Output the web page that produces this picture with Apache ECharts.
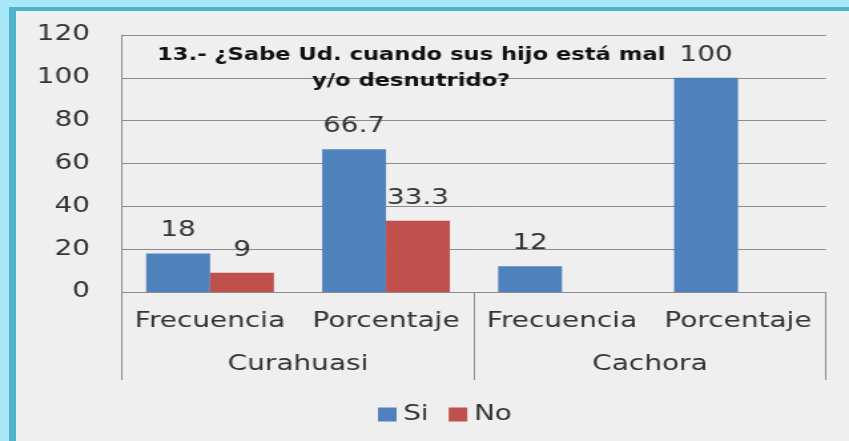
<!DOCTYPE html>
<html>
<head>
<meta charset="utf-8">
<script src="https://cdn.jsdelivr.net/npm/echarts@6/dist/echarts.min.js"></script>
<style>
  html,body{margin:0;padding:0;background:#EFEFEF;overflow:hidden;}
  #wrap{position:absolute;left:0;top:0;width:849px;height:441px;overflow:hidden;}
  /* the original picture is stretched sideways, so draw narrow and widen */
  #chart{position:absolute;left:0;top:0;width:638px;height:441px;transform:scaleX(1.3307);transform-origin:0 0;}
  .fr{position:absolute;}
</style>
</head>
<body>
<div id="wrap">
  <div id="chart"></div>
  <div class="fr" style="left:0;top:0;width:849px;height:7px;background:#A8E8F8;"></div>
  <div class="fr" style="left:0;top:0;width:9px;height:441px;background:#A8E8F8;"></div>
  <div class="fr" style="left:9px;top:7px;width:840px;height:4px;background:#4FB2C8;"></div>
  <div class="fr" style="left:9px;top:7px;width:7px;height:434px;background:#4FB2C8;"></div>
</div>
<script>
var subCats = ['Frecuencia', 'Porcentaje', 'Frecuencia', 'Porcentaje'];
var groups = ['Curahuasi', 'Cachora'];
var siData = [18, 66.7, 12, 100];
var noData = [9, 33.3, null, null];
var yTicks = [0, 20, 40, 60, 80, 100, 120];

var font = 'DejaVu Sans';
var txt = '#333333';
var lineCol = '#8C8C8C';

var myChart = echarts.init(document.getElementById('chart'));

var option = {
  backgroundColor: '#EFEFEF',
  animation: false,
  title: {
    text: '13.- ¿Sabe Ud. cuando sus hijo está mal\ny/o desnutrido?',
    left: 304,
    top: 38,
    textAlign: 'center',
    textStyle: {fontFamily: font, fontWeight: 'bold', fontSize: 17, color: '#111', lineHeight: 26}
  },
  legend: {
    left: 279,
    top: 399,
    itemWidth: 14,
    itemHeight: 14,
    itemGap: 15,
    icon: 'rect',
    textStyle: {fontFamily: font, fontSize: 21, color: txt},
    data: ['Si', 'No']
  },
  grid: {left: 91.7, right: 17.3, top: 35, bottom: 149, containLabel: false},
  xAxis: [{
    type: 'category',
    data: subCats,
    axisLine: {lineStyle: {color: lineCol}},
    axisTick: {show: false},
    axisLabel: {fontFamily: font, fontSize: 21, color: txt, margin: 19, interval: 0}
  }, {
    type: 'category',
    data: groups,
    position: 'bottom',
    axisLine: {show: false},
    axisTick: {show: true, length: 88, lineStyle: {color: lineCol}},
    axisLabel: {fontFamily: font, fontSize: 21, color: txt, margin: 62, interval: 0}
  }],
  yAxis: {
    type: 'value',
    min: yTicks[0],
    max: yTicks[yTicks.length - 1],
    interval: 20,
    axisLine: {show: true, lineStyle: {color: lineCol}},
    axisTick: {show: false},
    splitLine: {lineStyle: {color: lineCol}},
    axisLabel: {fontFamily: font, fontSize: 21, color: txt, margin: 24}
  },
  series: [{
    name: 'Si',
    type: 'bar',
    data: siData,
    barWidth: 48,
    barGap: '0%',
    itemStyle: {color: '#4F81BD'},
    label: {show: true, position: 'top', distance: 12, fontFamily: font, fontSize: 21, color: txt}
  }, {
    name: 'No',
    type: 'bar',
    data: noData,
    barWidth: 48,
    barGap: '0%',
    itemStyle: {color: '#C0504D'},
    label: {show: true, position: 'top', distance: 12, fontFamily: font, fontSize: 21, color: txt}
  }]
};
myChart.setOption(option);
</script>
</body>
</html>
